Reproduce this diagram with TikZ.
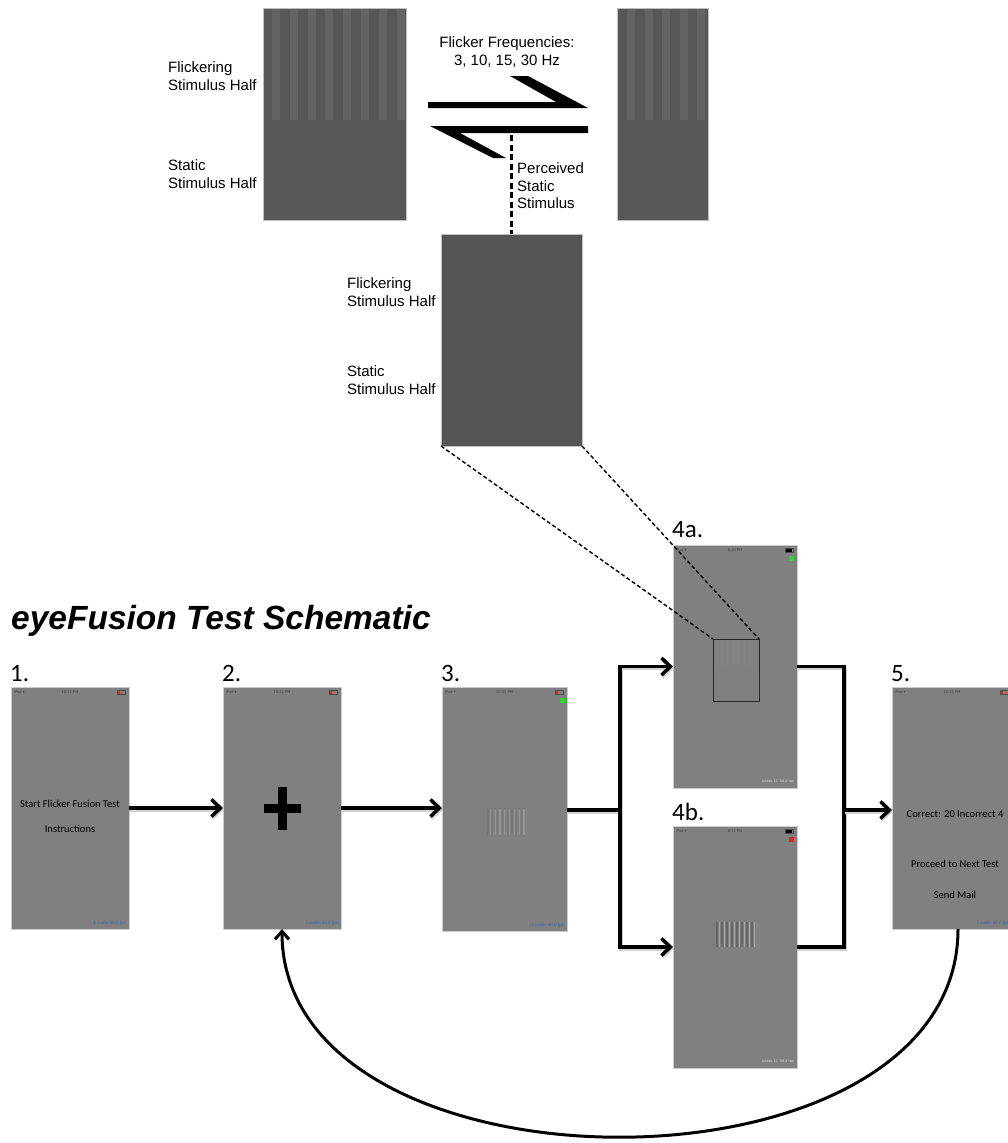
\documentclass[tikz,border=0pt]{standalone}
\usepackage{fontspec}
\setmainfont{Liberation Sans}
\newfontfamily\calib{Carlito}
\newfontfamily\dvs{DejaVu Sans}
\newfontfamily\tinyserif{Liberation Serif}
\usetikzlibrary{arrows.meta,calc}

\definecolor{scrgray}{HTML}{808080}
\definecolor{stimdark}{HTML}{575757}
\definecolor{stimlight}{HTML}{636363}
\definecolor{stimmid}{HTML}{555555}
\definecolor{fpsblue}{HTML}{3B62B0}
\definecolor{okgreen}{HTML}{22DD22}
\definecolor{badred}{HTML}{EE2211}

% status bar of a phone screen: node, clock, battery colour, battery level
\newcommand{\phonebar}[4]{%
  \node[sbtxt, anchor=west] (#1-carrier) at ($(#1.north west)+(3,5)$) {iPod ▾};
  \node[sbtxt] (#1-clock) at ($(#1.north)+(0,5)$) {#2};
  \draw[line width=0.4pt, draw=black!70] ($(#1.north east)+(-12,3)$) rectangle ($(#1.north east)+(-4,7)$);
  \fill[black!70] ($(#1.north east)+(-4,4.2)$) rectangle ($(#1.north east)+(-3,5.8)$);
  \fill[#3] ($(#1.north east)+(-11.5,3.5)$) rectangle ($(#1.north east)+(-11.5+#4,6.5)$);
}
% frame-rate counter in the lower right corner of a screen
\newcommand{\phonefoot}[3]{%
  \node[anchor=east, inner sep=0, #3] (#1-fps) at ($(#1.south east)+(-3,-6)$) {#2};
}

\begin{document}
\begin{tikzpicture}[x=1pt,y=-1pt,
  screen/.style={draw=black!20, line width=0.8pt, fill=scrgray, inner sep=0pt, outer sep=0pt},
  stim/.style={inner sep=0pt, outer sep=0pt, fill=stimdark},
  stimframe/.style={draw=black!25, line width=0.7pt},
  lbl/.style={font=\fontsize{15}{17.5}\selectfont, align=left, anchor=west, inner sep=0pt},
  steplbl/.style={font=\calib\fontsize{25}{27}\selectfont, anchor=base west, inner sep=0pt},
  scrtxt/.style={font=\calib\fontsize{10.5}{12}\selectfont, text=black, inner sep=0pt},
  sbtxt/.style={font=\dvs\fontsize{3.6}{4}\selectfont, text=black!75, inner sep=0pt},
  bluefps/.style={font=\tinyserif\itshape\fontsize{5}{6}\selectfont, text=fpsblue},
  greyfps/.style={font=\dvs\fontsize{3.4}{4}\selectfont, text=black!12},
  flow/.style={line width=3.5pt, draw=black,
    preaction={draw=black!18, line width=3.5pt, transform canvas={shift={(0.8pt,-1.8pt)}}}},
  flowarrow/.style={flow, -{Straight Barb[length=9pt,width=17pt]}},
  loopline/.style={line width=3pt, -{Straight Barb[length=8pt,width=14pt]}},
  zoomline/.style={dashed, line width=1.4pt, dash pattern=on 4pt off 2.5pt},
  percline/.style={line width=2.6pt, dash pattern=on 6pt off 3.5pt}
]
\useasboundingbox (0,0) rectangle (1008,1143);

% ---------- stimulus as shown ----------
\node[stim, minimum width=143pt, minimum height=212pt] (stimL) at (334.5,114) {};
\foreach \k in {0,...,7}
  \fill[stimlight] ($(stimL.north west)+(9+17.8*\k,0)$) rectangle ++(8,112);
\draw[stimframe] (stimL.north west) rectangle (stimL.south east);

\node[stim, minimum width=91pt, minimum height=212pt] (stimR) at (662.5,114) {};
\foreach \k in {0,...,4}
  \fill[stimlight] ($(stimR.north west)+(10+17.5*\k,0)$) rectangle ++(8,112);
\draw[stimframe] (stimR.north west) rectangle (stimR.south east);

\node[lbl] (flickL) at (168,76) {Flickering\\Stimulus Half};
\node[lbl] (staticL) at (168,174) {Static\\Stimulus Half};

\node[font=\fontsize{15}{17.5}\selectfont, align=center, inner sep=0pt] (freq) at (507,52)
  {Flicker Frequencies:\\3, 10, 15, 30 Hz};

% alternation harpoons
\fill[black] (428,102) -- (556,102) -- (510,76) -- (528,76) -- (588,108) -- (428,108) -- cycle;
\fill[black] (588,126) -- (430,126) -- (493,158) -- (506,158) -- (460,133) -- (588,133) -- cycle;

% ---------- perceived stimulus ----------
\node[stim, fill=stimmid, minimum width=141pt, minimum height=212pt] (stimM) at (511.5,340) {};
\draw[stimframe] (stimM.north west) rectangle (stimM.south east);
\coordinate (percTop) at (511.5,135);
\draw[percline] (percTop) -- (stimM.north);
\node[lbl] (perc) at (517,186) {Perceived\\Static\\Stimulus};

\node[lbl] (flickM) at (347,292) {Flickering\\Stimulus Half};
\node[lbl] (staticM) at (347,380) {Static\\Stimulus Half};

% ---------- title ----------
\node[font=\bfseries\itshape\fontsize{33.5}{36}\selectfont, anchor=west, inner sep=0pt] (title)
  at (11,621) {eyeFusion Test Schematic};

% ---------- screens ----------
\node[screen, minimum width=118pt, minimum height=242pt] (s1) at (70,808) {};
\node[screen, minimum width=118pt, minimum height=242pt] (s2) at (282,808) {};
\node[screen, minimum width=125pt, minimum height=244pt] (s3) at (504.5,809) {};
\node[screen, minimum width=124pt, minimum height=243pt] (s4a) at (735,666.5) {};
\node[screen, minimum width=124pt, minimum height=242pt] (s4b) at (735,947) {};
\node[screen, minimum width=120pt, minimum height=242pt] (s5) at (952,808) {};

\node[steplbl] (n1) at (10,681) {1.};
\node[steplbl] (n2) at (222,681) {2.};
\node[steplbl] (n3) at (441,681) {3.};
\node[steplbl] (n4a) at (672,537) {4a.};
\node[steplbl] (n4b) at (672,820) {4b.};
\node[steplbl] (n5) at (891,681) {5.};

\phonebar{s1}{10:32 PM}{badred}{2}
\phonebar{s2}{10:32 PM}{badred}{2}
\phonebar{s3}{10:33 PM}{badred}{2}
\phonebar{s4a}{8:30 PM}{black}{6}
\phonebar{s4b}{8:31 PM}{black}{6}
\phonebar{s5}{10:33 PM}{badred}{2}

\phonefoot{s1}{1 nodes 60.0 fps}{bluefps}
\phonefoot{s2}{3 nodes 60.0 fps}{bluefps}
\phonefoot{s3}{13 nodes 60.0 fps}{bluefps}
\phonefoot{s5}{3 nodes 60.0 fps}{bluefps}
\phonefoot{s4a}{nodes:15\ \ 60.0 fps}{greyfps}
\phonefoot{s4b}{nodes:15\ \ 59.8 fps}{greyfps}

% screen 1: start menu
\node[scrtxt] (start) at (70,804) {Start Flicker Fusion Test};
\node[scrtxt] (instr) at (70,829) {Instructions};

% screen 2: fixation cross
\fill[black] ($(s2.center)+(-18.5,-4.5)$) rectangle ($(s2.center)+(18.5,4.5)$);
\fill[black] ($(s2.center)+(-4.5,-21.5)$) rectangle ($(s2.center)+(4.5,21.5)$);

% screen 3: grating patch and ready light
\foreach \k in {0,...,7} {
  \draw[line width=1.2pt, draw=black!53] (488+4.8*\k,809) -- (488+4.8*\k,835);
  \draw[line width=1.1pt, draw=black!42] (490.4+4.8*\k,809) -- (490.4+4.8*\k,835);
}
\fill[okgreen] (560,698) rectangle (565,703);

% screen 4a: flickering patch outlined
\fill[okgreen] (789,556) rectangle (794,561);
\foreach \k in {0,...,7}
  \draw[line width=0.8pt, draw=black!45, opacity=0.3] (716.5+5.5*\k,640) -- (716.5+5.5*\k,667);
\node[draw=black!85, line width=0.9pt, minimum width=46pt, minimum height=62pt, inner sep=0pt, outer sep=0pt]
  (zoombox) at (736,670) {};

% screen 4b: grating and error light
\fill[badred] (789,837) rectangle (794,842);
\foreach \k in {0,...,7} {
  \draw[line width=1.5pt, draw=black!60] (717+5*\k,922) -- (717+5*\k,947);
  \draw[line width=1pt, draw=black!35] (719.5+5*\k,922) -- (719.5+5*\k,947);
}

% screen 5: results
\node[scrtxt] (score) at (955,814) {Correct: 20 Incorrect 4};
\node[scrtxt] (next) at (955,864) {Proceed to Next Test};
\node[scrtxt] (mail) at (955,895) {Send Mail};

% ---------- zoom lines to the patch ----------
\draw[zoomline] (stimM.south west) -- (zoombox.north west);
\draw[zoomline] (stimM.south east) -- (zoombox.north east);

% ---------- flow ----------
\draw[flowarrow] (s1.east) -- (s2.west);
\draw[flowarrow] (s2.east) -- (s2.east -| s3.west);
\coordinate (split) at (620,810);
\coordinate (join) at (844,810);
\draw[flow] (s3.east |- split) -- (split);
\draw[flowarrow] (split) |- (s4a.west);
\draw[flowarrow] (split) |- (s4b.west);
\draw[flow] (s4a.east) -| (join) |- (s4b.east);
\draw[flowarrow] (join) -- (join -| s5.west);

% return to fixation
\draw[loopline] ([xshift=6pt]s5.south) .. controls +(0,278) and +(0,276) .. (s2.south);
\end{tikzpicture}
\end{document}
